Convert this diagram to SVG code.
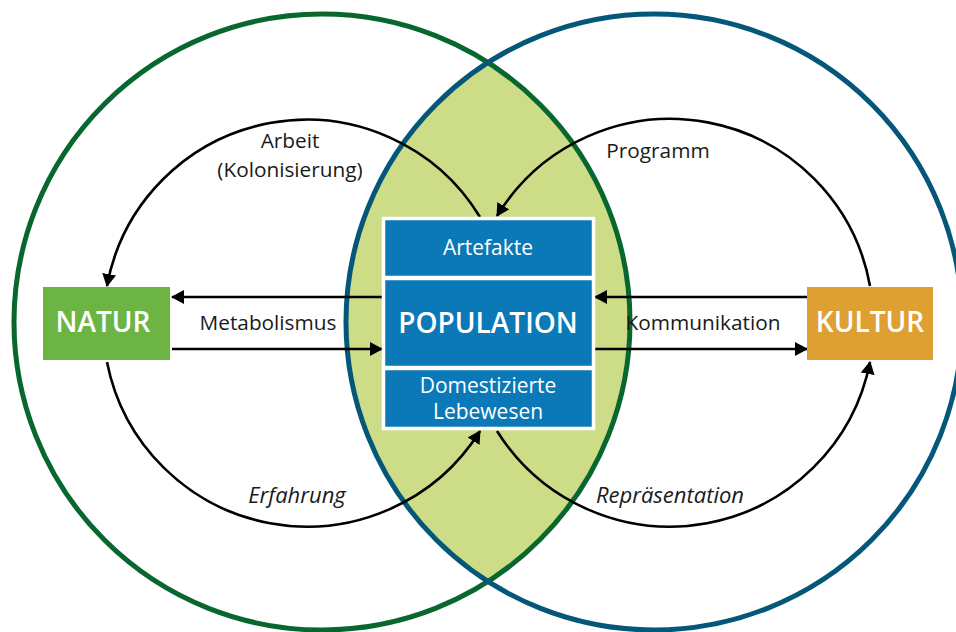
<svg xmlns="http://www.w3.org/2000/svg" width="956" height="632" viewBox="0 0 956 632">
<defs>
<style>
.lbl{font-family:"Open Sans","Liberation Sans",sans-serif;font-size:20.8px;fill:#1a1a1a;text-anchor:middle}
.it{font-style:italic;font-size:22px}
.box{font-family:"Open Sans","Liberation Sans",sans-serif;fill:#ffffff;text-anchor:middle}
.bold{font-weight:600}
.con{fill:none;stroke:#000;stroke-width:2.6}
.sec{fill:#0b79b7;stroke:#ffffff;stroke-width:3.5}
</style>
<marker id="ah" viewBox="0 0 14 14" refX="12" refY="7" markerWidth="14" markerHeight="14" markerUnits="userSpaceOnUse" orient="auto">
<path d="M0,0 L13,7 L0,14 Z" fill="#000"/>
</marker>
</defs>
<rect width="956" height="632" fill="#ffffff"/>
<g id="circles">
<path d="M488,62.6 A308,308 0 0,1 488,581.4 A308,308 0 0,1 488,62.6 Z" fill="#cddc87"/>
<circle cx="322" cy="322" r="308" fill="none" stroke="#08672f" stroke-width="5"/>
<circle cx="654" cy="322" r="308" fill="none" stroke="#05577a" stroke-width="5"/>
</g>
<g id="connectors">
<path class="con" d="M480,217 A203,203 0 0,0 107,286" marker-end="url(#ah)"/>
<path class="con" d="M107,362 A204,204 0 0,0 480,431" marker-end="url(#ah)"/>
<path class="con" d="M870,286 A203,203 0 0,0 497,216" marker-end="url(#ah)"/>
<path class="con" d="M497,431 A204,204 0 0,0 870,362" marker-end="url(#ah)"/>
<line class="con" x1="382" y1="297" x2="172" y2="297" marker-end="url(#ah)"/>
<line class="con" x1="172" y1="349" x2="382" y2="349" marker-end="url(#ah)"/>
<line class="con" x1="807" y1="297" x2="595" y2="297" marker-end="url(#ah)"/>
<line class="con" x1="595" y1="349" x2="807" y2="349" marker-end="url(#ah)"/>
</g>
<g id="labels">
<text class="lbl" x="290" y="148">Arbeit</text>
<text class="lbl" x="290" y="177">(Kolonisierung)</text>
<text class="lbl" x="658" y="158">Programm</text>
<text class="lbl" x="268" y="330">Metabolismus</text>
<text class="lbl" x="703" y="330">Kommunikation</text>
<text class="lbl it" x="297" y="503">Erfahrung</text>
<text class="lbl it" x="670" y="503">Repräsentation</text>
</g>
<g id="natur">
<rect x="43" y="287" width="127" height="73" fill="#6cb545"/>
<text class="box bold" x="103" y="332" font-size="28">NATUR</text>
</g>
<g id="kultur">
<rect x="807" y="287" width="126" height="73" fill="#dea032"/>
<text class="box bold" x="870" y="332" font-size="28">KULTUR</text>
</g>
<g id="population">
<rect class="sec" x="383.5" y="218.5" width="210" height="59"/>
<rect class="sec" x="383.5" y="278.5" width="210" height="89"/>
<rect class="sec" x="383.5" y="368.5" width="210" height="60"/>
<text class="box" x="488" y="255" font-size="21">Artefakte</text>
<text class="box bold" x="488" y="333" font-size="28">POPULATION</text>
<text class="box" x="488" y="393" font-size="21">Domestizierte</text>
<text class="box" x="488" y="419" font-size="21">Lebewesen</text>
</g>
</svg>
